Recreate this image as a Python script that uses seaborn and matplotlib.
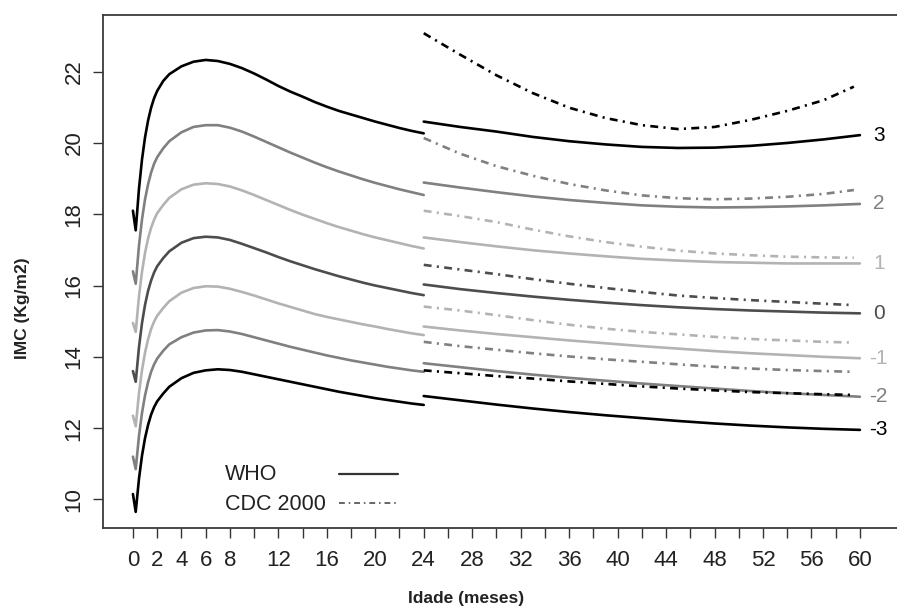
import numpy as np
import pandas as pd
import matplotlib
matplotlib.use("Agg")
import matplotlib.pyplot as plt
from matplotlib.lines import Line2D
import seaborn as sns

# ---------------- data ----------------
age_who_0_24 = [0, 0.23, 0.5, 0.75, 1, 1.25, 1.5, 1.75, 2, 2.5, 3, 4, 5, 6, 7, 8, 9, 10, 11,
                12, 13, 14, 15, 16, 17, 18, 19, 20, 21, 22, 23, 24]
age_who_24_60 = [24, 27, 30, 33, 36, 39, 42, 45, 48, 51, 54, 57, 60]
age_cdc = [24, 27, 30, 33, 36, 39, 42, 45, 48, 51, 54, 57, 59.5]

z_labels = ["3", "2", "1", "0", "-1", "-2", "-3"]
legend_labels = ["WHO", "CDC 2000"]

who_a_p3 = [18.1, 17.55, 18.72, 19.54, 20.16, 20.63, 20.99, 21.26, 21.46, 21.74, 21.93, 22.15,
            22.28, 22.33, 22.3, 22.22, 22.1, 21.95, 21.78, 21.6, 21.44, 21.3, 21.15, 21.02,
            20.9, 20.8, 20.7, 20.6, 20.51, 20.42, 20.34, 20.27]
who_a_p2 = [16.4, 16.05, 17.12, 17.86, 18.42, 18.84, 19.17, 19.42, 19.60, 19.85, 20.05, 20.3,
            20.45, 20.5, 20.5, 20.43, 20.32, 20.18, 20.03, 19.88, 19.73, 19.59, 19.45, 19.32,
            19.2, 19.09, 18.98, 18.88, 18.79, 18.7, 18.62, 18.54]
who_a_p1 = [14.95, 14.7, 15.70, 16.39, 16.92, 17.32, 17.62, 17.85, 18.03, 18.26, 18.46, 18.7,
            18.83, 18.87, 18.85, 18.78, 18.67, 18.54, 18.4, 18.26, 18.12, 17.99, 17.87, 17.75,
            17.64, 17.54, 17.44, 17.35, 17.27, 17.19, 17.11, 17.04]
who_a_0 = [13.6, 13.3, 14.27, 14.95, 15.46, 15.85, 16.14, 16.37, 16.54, 16.77, 16.96, 17.2,
           17.33, 17.37, 17.35, 17.28, 17.17, 17.05, 16.93, 16.8, 16.68, 16.57, 16.46, 16.36,
           16.26, 16.17, 16.08, 16.0, 15.93, 15.86, 15.79, 15.73]
who_a_m1 = [12.35, 12.05, 12.98, 13.63, 14.12, 14.49, 14.78, 14.99, 15.15, 15.37, 15.56, 15.8,
            15.93, 15.98, 15.97, 15.91, 15.82, 15.72, 15.61, 15.5, 15.4, 15.3, 15.2, 15.12,
            15.05, 14.98, 14.91, 14.85, 14.78, 14.72, 14.66, 14.61]
who_a_m2 = [11.2, 10.85, 11.78, 12.43, 12.92, 13.29, 13.58, 13.79, 13.95, 14.17, 14.35, 14.55,
            14.68, 14.74, 14.75, 14.71, 14.64, 14.55, 14.46, 14.37, 14.28, 14.2, 14.12, 14.04,
            13.97, 13.9, 13.84, 13.78, 13.72, 13.67, 13.62, 13.58]
who_a_m3 = [10.15, 9.65, 10.58, 11.23, 11.72, 12.09, 12.38, 12.59, 12.75, 12.97, 13.16, 13.4,
            13.55, 13.62, 13.65, 13.63, 13.58, 13.51, 13.44, 13.37, 13.3, 13.23, 13.16, 13.09,
            13.02, 12.96, 12.9, 12.84, 12.79, 12.74, 12.69, 12.65]

who_b_p3 = [20.6, 20.45, 20.32, 20.17, 20.05, 19.96, 19.89, 19.86, 19.87, 19.92, 20.0, 20.1, 20.22]
who_b_p2 = [18.89, 18.75, 18.62, 18.5, 18.4, 18.32, 18.25, 18.21, 18.19, 18.2, 18.22, 18.25, 18.29]
who_b_p1 = [17.35, 17.22, 17.1, 16.99, 16.9, 16.82, 16.75, 16.7, 16.66, 16.64, 16.62, 16.62, 16.62]
who_b_0 = [16.03, 15.9, 15.79, 15.69, 15.6, 15.52, 15.45, 15.39, 15.34, 15.3, 15.27, 15.24, 15.22]
who_b_m1 = [14.85, 14.74, 14.64, 14.55, 14.46, 14.38, 14.3, 14.23, 14.16, 14.1, 14.05, 14.0, 13.96]
who_b_m2 = [13.82, 13.71, 13.6, 13.5, 13.41, 13.33, 13.25, 13.18, 13.11, 13.04, 12.98, 12.93, 12.88]
who_b_m3 = [12.9, 12.78, 12.66, 12.55, 12.45, 12.36, 12.28, 12.2, 12.13, 12.07, 12.02, 11.98, 11.95]

cdc_p3 = [23.08, 22.48, 21.9, 21.4, 20.99, 20.7, 20.5, 20.39, 20.45, 20.65, 20.9, 21.2, 21.58]
cdc_p2 = [20.14, 19.7, 19.35, 19.08, 18.85, 18.67, 18.53, 18.45, 18.42, 18.44, 18.49, 18.57, 18.68]
cdc_p1 = [18.1, 17.95, 17.78, 17.57, 17.38, 17.22, 17.09, 16.98, 16.9, 16.85, 16.81, 16.79, 16.78]
cdc_0 = [16.58, 16.45, 16.32, 16.18, 16.05, 15.93, 15.82, 15.72, 15.65, 15.59, 15.54, 15.49, 15.45]
cdc_m1 = [15.41, 15.3, 15.17, 15.03, 14.9, 14.79, 14.7, 14.63, 14.56, 14.5, 14.46, 14.42, 14.4]
cdc_m2 = [14.42, 14.3, 14.2, 14.1, 14.01, 13.93, 13.86, 13.79, 13.72, 13.67, 13.63, 13.6, 13.58]
cdc_m3 = [13.62, 13.54, 13.46, 13.39, 13.31, 13.24, 13.17, 13.11, 13.06, 13.01, 12.98, 12.95, 12.93]

x_ticks = list(range(0, 61, 2))
x_tick_labels = [str(v) if (v <= 8 or v % 4 == 0) else "" for v in x_ticks]
y_ticks = [10, 12, 14, 16, 18, 20, 22]

# ---------------- styling ----------------
sns.set_style("ticks")
plt.rcParams["font.family"] = ["Liberation Sans", "DejaVu Sans"]

colors = ["#000000", "#808080", "#b3b3b3", "#4d4d4d", "#b3b3b3", "#808080", "#000000"]
who_a = [who_a_p3, who_a_p2, who_a_p1, who_a_0, who_a_m1, who_a_m2, who_a_m3]
who_b = [who_b_p3, who_b_p2, who_b_p1, who_b_0, who_b_m1, who_b_m2, who_b_m3]
cdc = [cdc_p3, cdc_p2, cdc_p1, cdc_0, cdc_m1, cdc_m2, cdc_m3]

W, H = 897, 610
fig = plt.figure(figsize=(W / 100, H / 100), dpi=100)
ax = fig.add_axes([103 / W, 82 / H, 805.4 / W, 513 / H])

LW = 1.9
DASH = (0, (3, 2, 0.8, 2))


def draw(x, y, color, ls):
    df = pd.DataFrame({"age": x, "bmi": y})
    sns.lineplot(data=df, x="age", y="bmi", color=color, linewidth=LW,
                 linestyle=ls, estimator=None, sort=False, ax=ax, legend=False)


for ya, yb, yc, col in zip(who_a, who_b, cdc, colors):
    draw(age_who_0_24, ya, col, "-")
    draw(age_who_24_60, yb, col, "-")
    draw(age_cdc, yc, col, DASH)

for lab, yb, col in zip(z_labels, who_b, colors):
    ax.text(61.55, yb[-1], lab, color=col, ha="center", va="center", fontsize=15)

ax.set_xlim(-2.47, 64)
ax.set_ylim(9.197, 23.591)
ax.set_xticks(x_ticks)
ax.set_xticklabels(x_tick_labels)
ax.set_yticks(y_ticks)
ax.set_yticklabels([str(v) for v in y_ticks])
ax.tick_params(axis="both", which="major", direction="out", length=7.2, width=1.0,
               color="#333333", labelsize=16, labelcolor="#222222",
               bottom=True, left=True, top=False, right=False)
ax.tick_params(axis="x", pad=9)
ax.tick_params(axis="y", pad=6, labelrotation=90)
for t in ax.get_yticklabels():
    t.set_va("center")

for side in ["left", "bottom", "top"]:
    ax.spines[side].set_visible(True)
    ax.spines[side].set_color("#3a3a3a")
    ax.spines[side].set_linewidth(1.3)
ax.spines["right"].set_visible(False)

ax.set_xlabel("Idade (meses)", fontsize=12.5, fontweight="bold", color="#222222")
ax.set_ylabel("IMC (Kg/m2)", fontsize=12.5, fontweight="bold", color="#222222")
ax.xaxis.label.set_va("center")
ax.yaxis.label.set_va("center")
ax.xaxis.set_label_coords((466 - 103) / 805.4, (528 - 598) / 513)
ax.yaxis.set_label_coords((22 - 103) / 805.4, (528 - 308) / 513)

# legend: sample lines (matplotlib legend) + left-aligned labels
handles = [Line2D([], [], color="#333333", lw=1.6),
           Line2D([], [], color="#666666", lw=1.4, linestyle=DASH)]
ax.legend(handles, [" ", " "], frameon=False, fontsize=15.5,
          handlelength=2.74, handletextpad=0, labelspacing=0.33, borderpad=0,
          borderaxespad=0, loc="upper left",
          bbox_to_anchor=(339 / W, 1 - 466 / H), bbox_transform=fig.transFigure)
for lab, ypx in zip(legend_labels, [475, 504]):
    fig.text(225 / W, 1 - ypx / H, lab, ha="left", va="center", fontsize=15.5,
             color="#222222")

fig.savefig("out.png", dpi=100)
